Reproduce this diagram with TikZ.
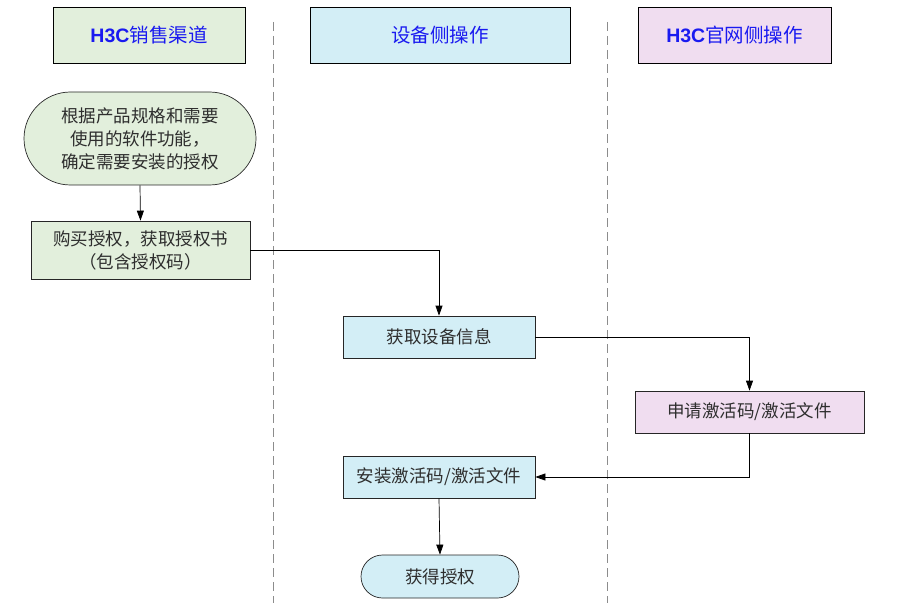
\documentclass[tikz,border=0pt]{standalone}
\usepackage{fontspec}
\setmainfont{Liberation Sans}
\newfontfamily\cjk{Noto Sans CJK SC}
\usetikzlibrary{arrows.meta,shapes.misc}
\definecolor{gfill}{HTML}{E2EFDC}
\definecolor{bfill}{HTML}{D3EEF6}
\definecolor{pfill}{HTML}{F0DDF0}
\definecolor{txt}{HTML}{2E2E2E}
\definecolor{hblue}{HTML}{1A1AF0}
\tikzset{
  x=1pt,y=-1pt,
  hdr/.style={draw=black,line width=0.9pt,minimum height=56pt,inner sep=0pt,font=\fontsize{19.5}{22}\selectfont\cjk,text=hblue},
  proc/.style={draw=black!85,line width=0.7pt,inner sep=0pt,font=\fontsize{17.5}{23}\selectfont\cjk,text=txt,align=center},
  term/.style={proc,rounded rectangle},
  lane/.style={draw=black!45,line width=0.8pt,dash pattern=on 9pt off 5pt},
  flow/.style={draw=black,line width=0.7pt,-{Triangle[length=10pt,width=7pt]}},
}
\begin{document}
\begin{tikzpicture}
\useasboundingbox (0,0) rectangle (900,607);
% lanes
\coordinate (l1t) at (273,22); \coordinate (l1b) at (273,603);
\coordinate (l2t) at (607,22); \coordinate (l2b) at (607,603);
\draw[lane] (l1t) -- (l1b);
\draw[lane] (l2t) -- (l2b);
% headers
\node[hdr,fill=gfill,minimum width=192pt] (h1) at (149,35) {{\rmfamily\bfseries H3C}销售渠道};
\node[hdr,fill=bfill,minimum width=260pt] (h2) at (440,35) {设备侧操作};
\node[hdr,fill=pfill,minimum width=193pt] (h3) at (734.5,35) {{\rmfamily\bfseries H3C}官网侧操作};
% nodes
\node[term,fill=gfill,minimum width=232pt,minimum height=93pt] (n1) at (140,138.5) {根据产品规格和需要\\使用的软件功能，\\确定需要安装的授权};
\node[proc,fill=gfill,minimum width=219pt,minimum height=58pt] (n2) at (140.5,250) {购买授权，获取授权书\\（包含授权码）};
\node[proc,fill=bfill,minimum width=192pt,minimum height=42pt] (n3) at (439,337) {获取设备信息};
\node[proc,fill=pfill,minimum width=229pt,minimum height=42pt] (n4) at (749.5,412) {申请激活码/激活文件};
\node[proc,fill=bfill,minimum width=192pt,minimum height=42pt] (n5) at (439,477) {安装激活码/激活文件};
\node[term,fill=bfill,minimum width=158pt,minimum height=43pt] (n6) at (440,576.5) {获得授权};
% connectors
\draw[flow] (n1.south) -- (n2.north);
\draw[flow] (n2.east) -| (n3.north);
\draw[flow] (n3.east) -| (n4.north);
\draw[flow] (n4.south) |- (n5.east);
\draw[flow] (n5.south) -- (n6.north);
\end{tikzpicture}
\end{document}
